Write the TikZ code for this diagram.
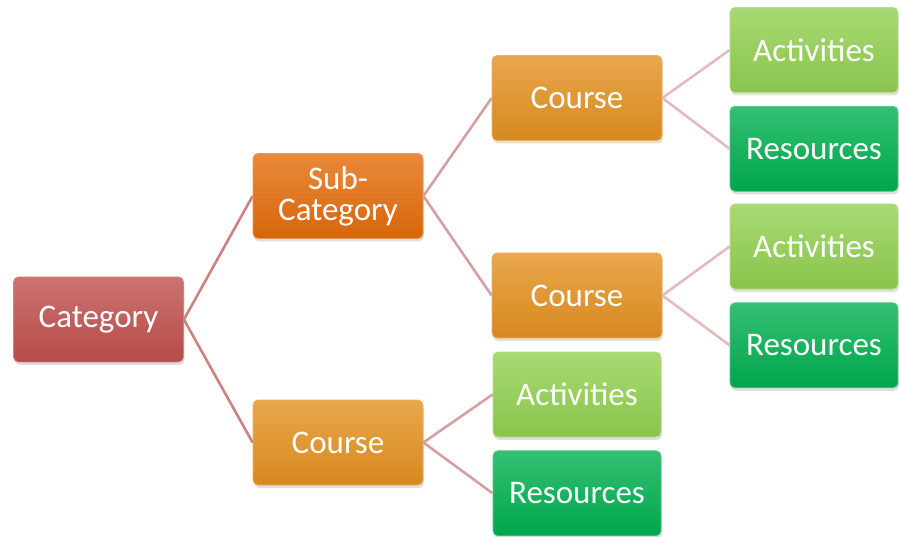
\documentclass[tikz,border=0pt]{standalone}
\usepackage{fontspec}
\setmainfont{Carlito}
\usetikzlibrary{positioning,shadows}
\definecolor{catred}{RGB}{192,80,77}
\definecolor{suborange}{RGB}{228,108,10}
\definecolor{crsorange}{RGB}{228,145,32}
\definecolor{actgreen}{RGB}{146,208,80}
\definecolor{resgreen}{RGB}{0,176,80}
\definecolor{linkA}{RGB}{205,130,128}
\definecolor{linkB}{RGB}{215,160,160}
\definecolor{linkC}{RGB}{226,188,188}
\tikzset{
  box/.style={
    rounded corners=5pt, align=center, text=white,
    font=\fontsize{33}{33}\selectfont,
    minimum width=170pt, minimum height=85pt, inner sep=2pt,
    drop shadow={shadow xshift=1pt, shadow yshift=-3pt, opacity=0.25}
  },
  tint/.style={box, top color=#1!80!white, middle color=#1, bottom color=#1!94!black,
    draw=#1!70!white, line width=0.8pt},
  catbox/.style={tint=catred},
  subbox/.style={tint=suborange},
  crsbox/.style={tint=crsorange},
  actbox/.style={tint=actgreen, minimum width=168pt},
  resbox/.style={tint=resgreen, minimum width=168pt},
  link/.style={line width=2.6pt}
}
\begin{document}
\begin{tikzpicture}[x=1pt, y=-1pt]
  \useasboundingbox (0,0) rectangle (899,537);

  \node[catbox] (cat) at (98.5,319.5) {Category};
  \node[subbox] (sub) at (338,196) {Sub-\\[-2pt]Category};
  \node[crsbox] (crsB) at (338,442.5) {Course};

  \node[crsbox] (crsT) at (577,98) {Course};
  \node[crsbox] (crsM) at (577,295.5) {Course};
  \node[actbox] (actB) at (577,394.5) {Activities};
  \node[resbox, below=13pt of actB] (resB) {Resources};

  \node[actbox] (actT) at (814,50) {Activities};
  \node[resbox, below=13pt of actT] (resT) {Resources};
  \node[actbox] (actM) at (814,246.5) {Activities};
  \node[resbox, below=13pt of actM] (resM) {Resources};

  % connectors
  \draw[link, linkA] (cat.east) -- (sub.west);
  \draw[link, linkA] (cat.east) -- (crsB.west);
  \draw[link, linkB] (sub.east) -- (crsT.west);
  \draw[link, linkB] (sub.east) -- (crsM.west);
  \draw[link, linkB] (crsB.east) -- (actB.west);
  \draw[link, linkB] (crsB.east) -- (resB.west);
  \draw[link, linkC] (crsT.east) -- (actT.west);
  \draw[link, linkC] (crsT.east) -- (resT.west);
  \draw[link, linkC] (crsM.east) -- (actM.west);
  \draw[link, linkC] (crsM.east) -- (resM.west);
\end{tikzpicture}
\end{document}
